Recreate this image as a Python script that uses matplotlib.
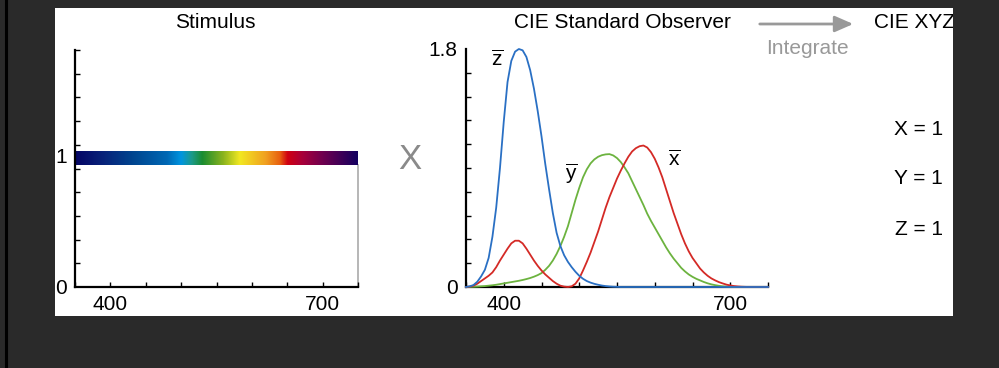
import numpy as np
import matplotlib
matplotlib.use('Agg')
import matplotlib.pyplot as plt
from matplotlib.colors import LinearSegmentedColormap
from matplotlib.patches import Rectangle, FancyArrowPatch
from matplotlib.lines import Line2D

plt.rcParams['font.family'] = ['Liberation Sans', 'DejaVu Sans']
plt.rcParams['mathtext.fontset'] = 'custom'
plt.rcParams['mathtext.rm'] = 'Liberation Sans'

# ---------------- data ----------------
wavelengths = list(range(350, 751, 5))

z_bar = [0.0, 0.005, 0.015, 0.04, 0.08, 0.13, 0.22, 0.38, 0.60, 0.90,
         1.25, 1.55, 1.71, 1.78, 1.80, 1.79, 1.74, 1.64, 1.50, 1.33,
         1.14, 0.93, 0.74, 0.56, 0.41, 0.31, 0.24, 0.19, 0.15, 0.115,
         0.085, 0.062, 0.045, 0.033, 0.024, 0.017, 0.011, 0.007, 0.004, 0.002,
         0.001] + [0.0] * 40

x_bar = [0.0, 0.003, 0.01, 0.025, 0.045, 0.065, 0.085, 0.11, 0.15, 0.20,
         0.245, 0.29, 0.33, 0.35, 0.35, 0.33, 0.29, 0.245, 0.20, 0.16,
         0.125, 0.095, 0.07, 0.045, 0.025, 0.01, 0.003, 0.0, 0.005, 0.025,
         0.065, 0.125, 0.19, 0.26, 0.34, 0.42, 0.51, 0.60, 0.68, 0.75,
         0.82, 0.88, 0.935, 0.985, 1.025, 1.05, 1.065, 1.07, 1.055, 1.02,
         0.97, 0.905, 0.83, 0.74, 0.65, 0.56, 0.48, 0.40, 0.33, 0.27,
         0.22, 0.18, 0.14, 0.11, 0.085, 0.065, 0.05, 0.037, 0.027, 0.018,
         0.012, 0.007, 0.004, 0.002, 0.001] + [0.0] * 6

y_bar = [0.0, 0.001, 0.002, 0.003, 0.005, 0.007, 0.01, 0.013, 0.017, 0.022,
         0.027, 0.032, 0.037, 0.042, 0.047, 0.053, 0.06, 0.068, 0.078, 0.09,
         0.105, 0.13, 0.16, 0.20, 0.25, 0.31, 0.38, 0.46, 0.56, 0.66,
         0.75, 0.83, 0.89, 0.935, 0.965, 0.985, 0.997, 1.003, 1.005, 0.995,
         0.975, 0.945, 0.905, 0.86, 0.80, 0.74, 0.68, 0.62, 0.555, 0.50,
         0.45, 0.40, 0.35, 0.30, 0.255, 0.215, 0.18, 0.145, 0.118, 0.095,
         0.077, 0.062, 0.05, 0.038, 0.028, 0.02, 0.014, 0.009, 0.005, 0.003,
         0.001] + [0.0] * 10

stimulus_level = 1.0

spectrum_stops = [350, 390, 432, 480, 500, 515, 530, 560, 583, 620, 640, 651, 672, 700, 750]
spectrum_colors = ['#050565', '#08237a', '#00458f', '#0068b4', '#0095e0', '#1c9a8a',
                   '#1a8c30', '#8cb41e', '#f2e822', '#f0a020', '#e86010', '#d00012',
                   '#a8003a', '#70004e', '#140060']

x_range = (350, 750)
y_range = (0, 1.8)
x_tick_labels = [400, 700]
result_labels = ['X = 1', 'Y = 1', 'Z = 1']

# ---------------- figure ----------------
W, H = 999, 368
fig = plt.figure(figsize=(W / 100, H / 100), dpi=100, facecolor='#2a2a2a')

def fx(px):
    return px / W

def fy(py):
    return 1 - py / H

# white panel
fig.add_artist(Rectangle((fx(55), fy(316)), fx(953) - fx(55), fy(8) - fy(316),
                         transform=fig.transFigure, facecolor='white', edgecolor='none', zorder=0))
# thin black line on the far left
fig.add_artist(Line2D([fx(6), fx(6)], [0, 1], transform=fig.transFigure, color='black', lw=2.2, zorder=1))

FS = 15

def style_axes(ax, ymajor, ylabels):
    ax.set_xlim(*x_range)
    ax.set_ylim(*y_range)
    ax.set_facecolor('none')
    for s in ['top', 'right']:
        ax.spines[s].set_visible(False)
    for s in ['left', 'bottom']:
        ax.spines[s].set_linewidth(1.6)
        ax.spines[s].set_color('black')
    ax.set_xticks(x_tick_labels)
    ax.set_xticklabels([str(v) for v in x_tick_labels])
    ax.set_xticks(np.arange(x_range[0], x_range[1] + 1, 50), minor=True)
    ax.set_yticks(ymajor)
    ax.set_yticklabels(ylabels)
    ax.set_yticks(np.linspace(0, 1.8, 11), minor=True)
    ax.tick_params(axis='x', which='both', direction='in', length=3.5, width=1, pad=6, labelsize=FS)
    ax.tick_params(axis='y', which='major', length=0, pad=6, labelsize=FS)
    ax.tick_params(axis='y', which='minor', direction='in', length=3.5, width=1)

# ---- left: stimulus ----
axL = fig.add_axes([fx(75), fy(287), fx(358) - fx(75), fy(50) - fy(287)])
style_axes(axL, [0, stimulus_level], ['0', '1'])
cmap = LinearSegmentedColormap.from_list(
    'spec', list(zip([(w - x_range[0]) / (x_range[1] - x_range[0]) for w in spectrum_stops], spectrum_colors)))
bar_lo = stimulus_level - 0.075
bar_hi = stimulus_level + 0.025
grad = np.linspace(0, 1, 512)[None, :]
axL.imshow(grad, cmap=cmap, aspect='auto', extent=[x_range[0], x_range[1], bar_lo, bar_hi],
           interpolation='bilinear', zorder=2)
axL.plot([x_range[1], x_range[1]], [0, bar_lo], color='#aaaaaa', lw=1.2, zorder=1, clip_on=False)
axL.set_xlim(*x_range)
axL.set_ylim(*y_range)
fig.text(fx(215), fy(22), 'Stimulus', ha='center', va='center', fontsize=FS)

# multiplication sign
fig.text(fx(410), fy(160), 'X', ha='center', va='center', fontsize=25, color='#8a8a8a')

# ---- right: CIE standard observer ----
axR = fig.add_axes([fx(466), fy(287), fx(768) - fx(466), fy(49) - fy(287)])
style_axes(axR, [0, 1.8], ['0', '1.8'])
axR.plot(wavelengths, y_bar, color='#6cb33f', lw=1.3, clip_on=False, zorder=3)
axR.plot(wavelengths, x_bar, color='#d42a26', lw=1.3, clip_on=False, zorder=4)
axR.plot(wavelengths, z_bar, color='#2a70c4', lw=1.3, clip_on=False, zorder=5)

axR.text(391, 1.72, r'$\overline{\mathrm{z}}$', ha='center', va='center', fontsize=FS)
axR.text(489, 0.86, r'$\overline{\mathrm{y}}$', ha='center', va='center', fontsize=FS)
axR.text(626, 0.96, r'$\overline{\mathrm{x}}$', ha='center', va='center', fontsize=FS)

fig.text(fx(622), fy(22), 'CIE Standard Observer', ha='center', va='center', fontsize=FS)

# arrow + integrate
fig.add_artist(FancyArrowPatch((fx(757), fy(24)), (fx(856), fy(24)), transform=fig.transFigure,
                               arrowstyle='-|>,head_length=0.8,head_width=0.35', mutation_scale=14,
                               lw=2.0, color='#999999', zorder=3))
fig.text(fx(807), fy(49), 'Integrate', ha='center', va='center', fontsize=FS, color='#999999')
fig.text(fx(874), fy(22), 'CIE XYZ', ha='left', va='center', fontsize=FS)

for i, lab in enumerate(result_labels):
    fig.text(fx(943), fy(129 + 50 * i), lab, ha='right', va='center', fontsize=FS)

# cover right of panel (clips the title text like the reference)
fig.add_artist(Rectangle((fx(953), 0), 1 - fx(953), 1, transform=fig.transFigure,
                         facecolor='#2a2a2a', edgecolor='none', zorder=20))

fig.savefig('out.png', dpi=100, facecolor=fig.get_facecolor())
